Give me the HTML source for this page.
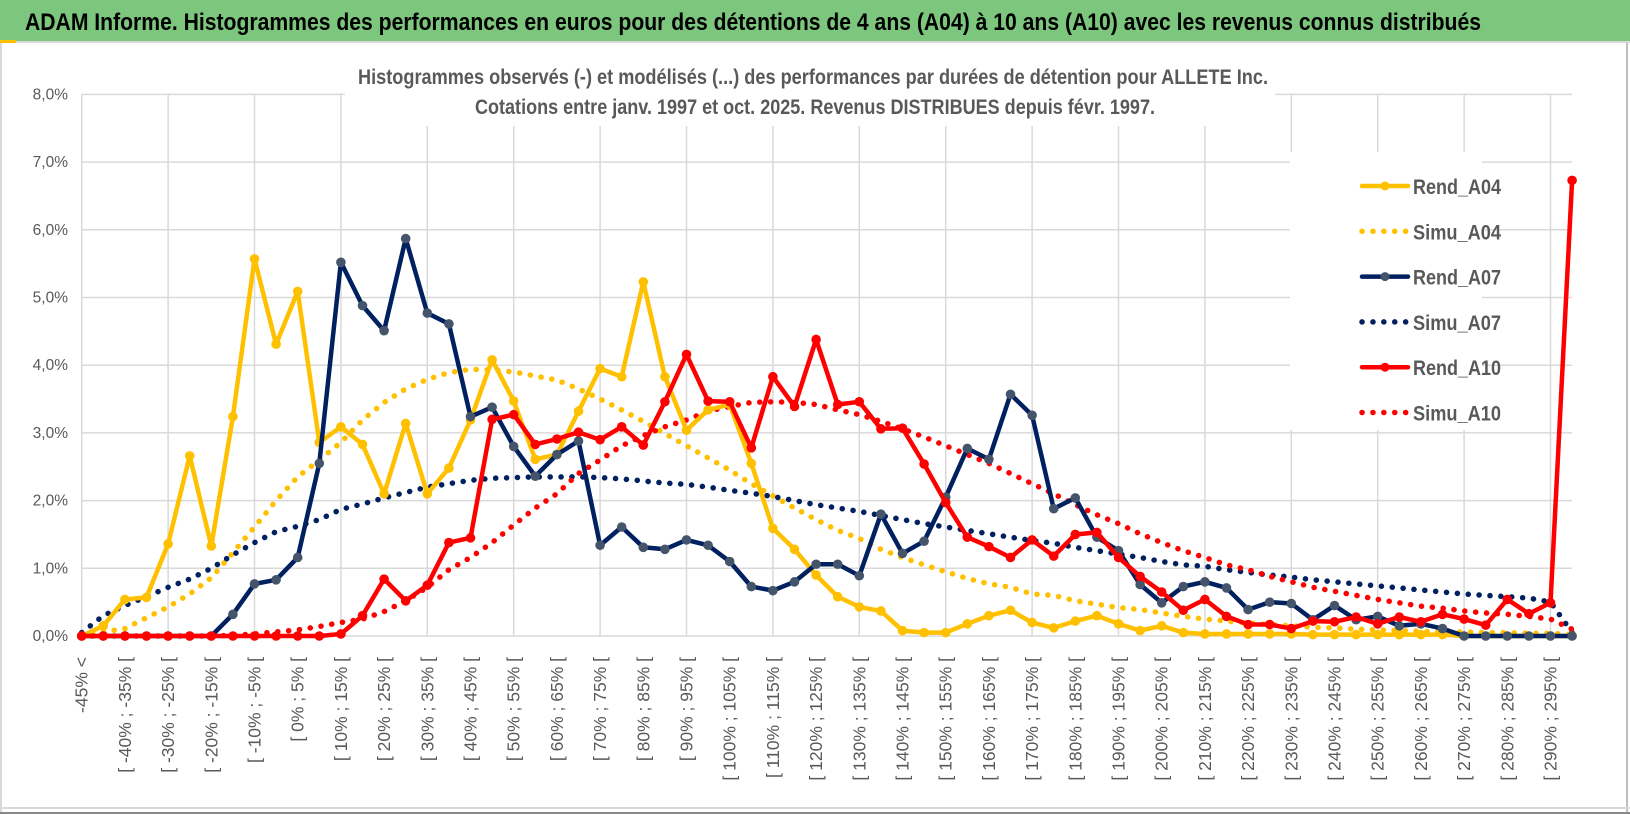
<!DOCTYPE html>
<html><head><meta charset="utf-8"><style>
html,body{margin:0;padding:0;background:#fff;}
svg{display:block;font-family:"Liberation Sans",sans-serif;}
</style></head><body>
<svg id="chart" width="1630" height="815" viewBox="0 0 1630 815">
<rect x="0" y="0" width="1630" height="815" fill="#fff"/>
<rect x="0" y="0" width="1630" height="41" fill="#7DC67E"/>
<line x1="0" y1="42" x2="1630" y2="42" stroke="#d9d9d9" stroke-width="2"/>
<rect x="0" y="40" width="16" height="3" fill="#FFC000"/>
<text x="25" y="30" font-size="24" font-weight="bold" fill="#000" textLength="1456" lengthAdjust="spacingAndGlyphs">ADAM Informe. Histogrammes des performances en euros pour des détentions de 4 ans (A04) à 10 ans (A10) avec les revenus connus distribués</text>
<line x1="1" y1="43" x2="1" y2="812" stroke="#d9d9d9" stroke-width="2"/>
<line x1="1627" y1="43" x2="1627" y2="812" stroke="#bfbfbf" stroke-width="2"/>
<line x1="0" y1="808" x2="1630" y2="808" stroke="#d9d9d9" stroke-width="2"/>
<line x1="0" y1="813" x2="1630" y2="813" stroke="#888" stroke-width="2"/>
<g id="grid"></g>
<rect x="345" y="60" width="930" height="66" fill="#fff"/>
<rect x="1290" y="152" width="192" height="278" fill="#fff"/>
<text x="813" y="84" font-size="21" font-weight="bold" fill="#595959" text-anchor="middle" textLength="910" lengthAdjust="spacingAndGlyphs">Histogrammes observés (-) et modélisés (...) des performances par durées de détention pour ALLETE Inc.</text>
<text x="815" y="114" font-size="21" font-weight="bold" fill="#595959" text-anchor="middle" textLength="680" lengthAdjust="spacingAndGlyphs">Cotations entre janv. 1997 et oct. 2025. Revenus DISTRIBUES depuis févr. 1997.</text>
<g id="yaxis"></g>
<g id="xaxis"></g>
<g id="series"></g>
<g id="legend"></g>
</svg>
<script>
const categories = ["-45% <","[ -45% ; -40% [","[ -40% ; -35% [","[ -35% ; -30% [","[ -30% ; -25% [","[ -25% ; -20% [","[ -20% ; -15% [","[ -15% ; -10% [","[ -10% ; -5% [","[ -5% ; 0% [","[ 0% ; 5% [","[ 5% ; 10% [","[ 10% ; 15% [","[ 15% ; 20% [","[ 20% ; 25% [","[ 25% ; 30% [","[ 30% ; 35% [","[ 35% ; 40% [","[ 40% ; 45% [","[ 45% ; 50% [","[ 50% ; 55% [","[ 55% ; 60% [","[ 60% ; 65% [","[ 65% ; 70% [","[ 70% ; 75% [","[ 75% ; 80% [","[ 80% ; 85% [","[ 85% ; 90% [","[ 90% ; 95% [","[ 95% ; 100% [","[ 100% ; 105% [","[ 105% ; 110% [","[ 110% ; 115% [","[ 115% ; 120% [","[ 120% ; 125% [","[ 125% ; 130% [","[ 130% ; 135% [","[ 135% ; 140% [","[ 140% ; 145% [","[ 145% ; 150% [","[ 150% ; 155% [","[ 155% ; 160% [","[ 160% ; 165% [","[ 165% ; 170% [","[ 170% ; 175% [","[ 175% ; 180% [","[ 180% ; 185% [","[ 185% ; 190% [","[ 190% ; 195% [","[ 195% ; 200% [","[ 200% ; 205% [","[ 205% ; 210% [","[ 210% ; 215% [","[ 215% ; 220% [","[ 220% ; 225% [","[ 225% ; 230% [","[ 230% ; 235% [","[ 235% ; 240% [","[ 240% ; 245% [","[ 245% ; 250% [","[ 250% ; 255% [","[ 255% ; 260% [","[ 260% ; 265% [","[ 265% ; 270% [","[ 270% ; 275% [","[ 275% ; 280% [","[ 280% ; 285% [","[ 285% ; 290% [","[ 290% ; 295% [","[ 295% ; 300% ["];
const yTicks = [0,1,2,3,4,5,6,7,8];
const yTickLabels = ["0,0%","1,0%","2,0%","3,0%","4,0%","5,0%","6,0%","7,0%","8,0%"];
const rendA04 = [0,0.15,0.54,0.57,1.36,2.66,1.33,3.24,5.57,4.31,5.09,2.86,3.09,2.83,2.10,3.14,2.10,2.48,3.19,4.08,3.47,2.61,2.68,3.32,3.95,3.83,5.23,3.83,3.04,3.34,3.42,2.55,1.59,1.28,0.90,0.58,0.43,0.37,0.08,0.05,0.05,0.18,0.30,0.38,0.20,0.12,0.22,0.30,0.18,0.08,0.15,0.05,0.03,0.03,0.03,0.03,0.03,0.02,0.02,0.02,0.02,0.02,0.02,0.02,0,0,0,0,0,0];
const simuA04 = [0.02,0.06,0.11,0.27,0.43,0.62,0.86,1.23,1.61,2.0,2.35,2.6,2.86,3.19,3.45,3.65,3.79,3.89,3.94,3.93,3.9,3.84,3.78,3.65,3.5,3.34,3.17,2.99,2.81,2.63,2.45,2.25,2.07,1.89,1.72,1.56,1.44,1.28,1.16,1.05,0.95,0.85,0.77,0.72,0.62,0.6,0.52,0.47,0.42,0.39,0.34,0.29,0.25,0.22,0.19,0.17,0.15,0.13,0.12,0.1,0.09,0.08,0.07,0.06,0.06,0.05,0.05,0.04,0.04,0.02];
const rendA07 = [0,0,0,0,0,0,0,0.32,0.77,0.83,1.16,2.55,5.52,4.88,4.51,5.87,4.77,4.61,3.24,3.38,2.80,2.36,2.68,2.88,1.34,1.61,1.31,1.28,1.42,1.34,1.10,0.73,0.67,0.80,1.06,1.06,0.89,1.80,1.22,1.40,2.05,2.77,2.61,3.57,3.26,1.88,2.04,1.46,1.26,0.76,0.49,0.73,0.80,0.71,0.39,0.50,0.48,0.24,0.45,0.24,0.29,0.15,0.18,0.11,0,0,0,0,0,0];
const simuA07 = [0.05,0.3,0.45,0.58,0.72,0.84,1.0,1.2,1.38,1.54,1.62,1.72,1.87,1.95,2.04,2.12,2.2,2.25,2.3,2.33,2.34,2.35,2.35,2.35,2.34,2.32,2.29,2.26,2.24,2.2,2.15,2.11,2.06,2.0,1.94,1.89,1.84,1.78,1.72,1.66,1.61,1.56,1.51,1.46,1.41,1.37,1.31,1.26,1.21,1.16,1.1,1.05,1.03,0.98,0.94,0.9,0.87,0.83,0.8,0.77,0.74,0.71,0.68,0.65,0.62,0.6,0.58,0.56,0.5,0.05];
const rendA10 = [0,0,0,0,0,0,0,0,0,0,0,0,0.03,0.30,0.84,0.52,0.75,1.38,1.45,3.20,3.27,2.83,2.91,3.01,2.90,3.09,2.82,3.46,4.16,3.47,3.46,2.78,3.83,3.39,4.38,3.42,3.46,3.06,3.07,2.54,1.97,1.46,1.32,1.16,1.42,1.18,1.50,1.53,1.16,0.88,0.65,0.38,0.54,0.29,0.17,0.17,0.11,0.22,0.21,0.28,0.18,0.28,0.21,0.32,0.25,0.16,0.54,0.33,0.49,6.73];
const simuA10 = [0,0,0,0,0,0,0,0.01,0.03,0.06,0.09,0.14,0.2,0.25,0.36,0.52,0.72,0.98,1.16,1.38,1.64,1.89,2.1,2.4,2.6,2.81,2.96,3.09,3.19,3.32,3.39,3.45,3.46,3.45,3.42,3.34,3.27,3.17,3.06,2.94,2.81,2.68,2.55,2.4,2.25,2.1,1.94,1.79,1.66,1.51,1.38,1.26,1.16,1.05,0.98,0.88,0.8,0.72,0.66,0.6,0.54,0.49,0.44,0.41,0.37,0.34,0.32,0.29,0.25,0.1];

const NS = "http://www.w3.org/2000/svg";
const X0 = 81.7, DX = 21.6, Y0 = 636, PY = 67.7;
function xPos(i){ return X0 + i * DX; }
function yPos(v){ return Y0 - v * PY; }
function mk(tag, attrs, parent){
  const e = document.createElementNS(NS, tag);
  for (const k in attrs) e.setAttribute(k, attrs[k]);
  parent.appendChild(e);
  return e;
}
const grid = document.getElementById('grid');
const xEnd = xPos(categories.length - 1);
yTicks.forEach(function(t){
  const l = mk('line', {x1: X0, x2: xEnd, y1: yPos(t), y2: yPos(t), stroke: '#d9d9d9', 'stroke-width': 1.5}, grid);
  
  
});
for (let i = 0; i < categories.length; i += 4) {
  const l = mk('line', {x1: xPos(i), x2: xPos(i), y1: yPos(8), y2: Y0, stroke: '#d9d9d9', 'stroke-width': 1.5}, grid);
  
  
}
const yax = document.getElementById('yaxis');
yTicks.forEach(function(t, k){
  const tx = mk('text', {x: 68, y: yPos(t) + 5, 'font-size': 15.5, fill: '#595959', 'text-anchor': 'end'}, yax);
  tx.textContent = yTickLabels[k];
  
  
});
const xax = document.getElementById('xaxis');
categories.forEach(function(c, i){
  if (i % 2 !== 0) return;
  const x = xPos(i) + 6;
  const tx = mk('text', {x: x, y: 657, 'font-size': 17.5, fill: '#595959', 'text-anchor': 'end', transform: 'rotate(-90 ' + x + ' 657)'}, xax);
  tx.textContent = c;
  
  
});
const ser = document.getElementById('series');
function pathOf(vals){ return vals.map(function(v, i){ return (i ? 'L' : 'M') + xPos(i).toFixed(1) + ' ' + yPos(v).toFixed(1); }).join(' '); }
function dotted(vals, color, name){
  const p = mk('path', {d: pathOf(vals), fill: 'none', stroke: color, 'stroke-width': 5.5, 'stroke-linecap': 'round', 'stroke-dasharray': '0.1 10.8'}, ser);
  
  
}
function solid(vals, color, mcolor, name){
  const g = mk('g', {}, ser);
  
  
  const p = mk('path', {d: pathOf(vals), fill: 'none', stroke: color, 'stroke-width': 4.5, 'stroke-linejoin': 'round'}, g);
  
  
  vals.forEach(function(v, i){
    const c = mk('circle', {cx: xPos(i), cy: yPos(v), r: 4.8, fill: mcolor}, g);
    
    
  });
}
dotted(simuA04, '#FFC000', 'simu-a04');
dotted(simuA07, '#002060', 'simu-a07');
dotted(simuA10, '#FF0000', 'simu-a10');
solid(rendA04, '#FFC000', '#FFC000', 'rend-a04');
solid(rendA07, '#002060', '#44546A', 'rend-a07');
solid(rendA10, '#FF0000', '#FF0000', 'rend-a10');

const legendNames = ["Rend_A04","Simu_A04","Rend_A07","Simu_A07","Rend_A10","Simu_A10"];
const legendColors = ['#FFC000','#FFC000','#002060','#002060','#FF0000','#FF0000'];
const legendMarkers = ['#FFC000',null,'#44546A',null,'#FF0000',null];
const leg = document.getElementById('legend');
legendNames.forEach(function(n, k){
  const y = 186 + k * 45.3;
  const g = mk('g', {}, leg);
  
  
  if (legendMarkers[k]) {
    mk('line', {x1: 1362, x2: 1408, y1: y, y2: y, stroke: legendColors[k], 'stroke-width': 4.5, 'stroke-linecap': 'round'}, g);
    mk('circle', {cx: 1385, cy: y, r: 4.5, fill: legendMarkers[k]}, g);
  } else {
    mk('line', {x1: 1362, x2: 1408, y1: y, y2: y, stroke: legendColors[k], 'stroke-width': 5.5, 'stroke-linecap': 'round', 'stroke-dasharray': '0.1 10.8'}, g);
  }
  const t = mk('text', {x: 1413, y: y + 8, 'font-size': 21, 'font-weight': 'bold', fill: '#595959', textLength: 88, lengthAdjust: 'spacingAndGlyphs'}, g);
  t.textContent = n;
});
</script>
</body></html>
